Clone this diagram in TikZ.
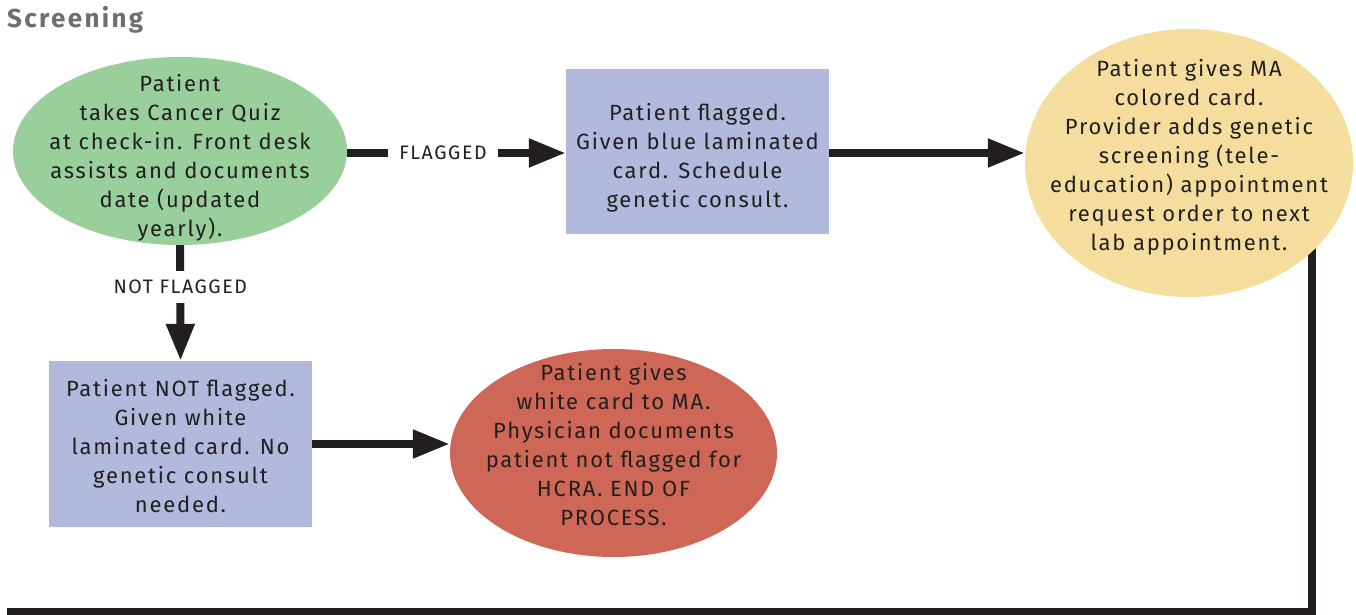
\documentclass[tikz,border=0pt]{standalone}
\usepackage{fontspec}
\setmainfont{Fira Sans}
\newfontfamily\bodyfont[LetterSpace=8]{Fira Sans}
\newfontfamily\titlefont[LetterSpace=9]{Fira Sans}
\usetikzlibrary{shapes.geometric,arrows.meta,backgrounds}
\definecolor{greenfill}{HTML}{98CF9B}
\definecolor{bluefill}{HTML}{B1B9DC}
\definecolor{yellowfill}{HTML}{F5DD9E}
\definecolor{redfill}{HTML}{CF6757}
\definecolor{ink}{HTML}{231F20}
\definecolor{titlegrey}{HTML}{6D6E71}
\tikzset{
  x=1pt, y=-1pt,
  txt/.style={text=ink, align=center, inner sep=0pt, font=\bodyfont\fontsize{22}{29}\selectfont},
  oval/.style={ellipse, inner sep=0pt},
  card/.style={rectangle, inner sep=0pt, fill=bluefill},
  conn/.style={draw=ink, line width=8pt, -{Triangle[length=37pt,width=27pt]}},
  lbl/.style={fill=white, text=ink, inner sep=0pt, minimum height=30pt, font=\bodyfont\fontsize{19.5}{22}\selectfont},
}
\begin{document}
\begin{tikzpicture}
\useasboundingbox (0,0) rectangle (1356,615);
\node[anchor=west, text=titlegrey, font=\titlefont\bfseries\fontsize{26}{30}\selectfont, inner sep=0pt] (title) at (7,20) {Screening};

% shapes
\node[oval, fill=greenfill, minimum width=334pt, minimum height=188pt] (quiz) at (180,151) {};
\node[card, minimum width=263pt, minimum height=165pt] (flagged) at (697.5,151.5) {};
\node[oval, fill=yellowfill, minimum width=328pt, minimum height=268pt] (provider) at (1189,163) {};
\node[card, minimum width=263pt, minimum height=166pt] (notflagged) at (180.5,444) {};
\node[oval, fill=redfill, minimum width=327pt, minimum height=208pt] (endproc) at (613.5,453) {};

% texts
\node[txt] (quiztext) at ([yshift=-6.5pt]quiz.center)
  {Patient\\takes Cancer Quiz\\at check-in. Front desk\\assists and documents\\date (updated\\yearly).};
\node[txt] (flaggedtext) at ([yshift=-6pt]flagged.center)
  {Patient flagged.\\Given blue laminated\\card. Schedule\\genetic consult.};
\node[txt] (providertext) at ([yshift=6pt]provider.center)
  {Patient gives MA\\colored card.\\Provider adds genetic\\screening (tele-\\education) appointment\\request order to next\\lab appointment.};
\node[txt] (notflaggedtext) at ([yshift=-2.5pt]notflagged.center)
  {Patient NOT flagged.\\Given white\\laminated card. No\\genetic consult\\needed.};
\node[txt] (endproctext) at ([yshift=8pt]endproc.center)
  {Patient gives\\white card to MA.\\Physician documents\\patient not flagged for\\HCRA. END OF\\PROCESS.};

\coordinate (turn) at (1312,611.5);
\coordinate (exit) at (7,611.5);

\draw[conn] (quiz.east |- 0,153) -- node[lbl, pos=0.438, minimum width=110pt] (flab) {FLAGGED} (flagged.west |- 0,153);
\draw[conn] (flagged.east |- 0,153) -- (provider.west |- 0,153);
\draw[conn] (quiz.south) -- node[lbl, pos=0.36, minimum width=150pt, minimum height=32pt] (nlab) {NOT FLAGGED} (notflagged.north);
\draw[conn] (notflagged.east) -- (endproc.west |- notflagged.east);
\begin{scope}[on background layer]
\draw[draw=ink, line width=8pt] (provider.center -| turn) -- (turn) -- (exit);
\end{scope}
\end{tikzpicture}
\end{document}
